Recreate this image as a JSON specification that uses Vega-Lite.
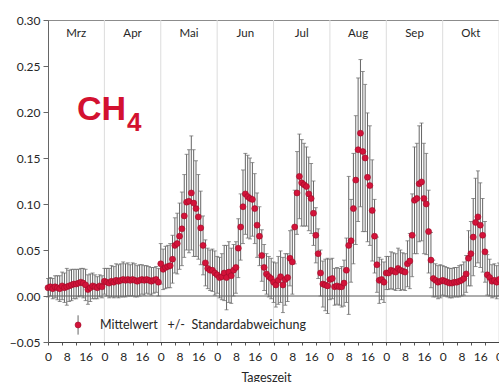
{
  "$schema": "https://vega.github.io/schema/vega-lite/v6.json",
  "width": 460,
  "height": 322,
  "autosize": {"type": "none"},
  "padding": {"left": 48, "top": 20, "right": 0, "bottom": 40},
  "background": "white",
  "config": {"view": {"stroke": "#8c8c8c"}, "font": "Lato", "axis": {"grid": false}},
  "datasets": {
    "ch4": [
      {"t":0,"mean":0.009,"sd":0.010},{"t":1,"mean":0.010,"sd":0.010},{"t":2,"mean":0.008,"sd":0.011},{"t":3,"mean":0.010,"sd":0.012},{"t":4,"mean":0.009,"sd":0.013},{"t":5,"mean":0.008,"sd":0.014},{"t":6,"mean":0.011,"sd":0.015},{"t":7,"mean":0.009,"sd":0.016},{"t":8,"mean":0.010,"sd":0.020},{"t":9,"mean":0.011,"sd":0.017},{"t":10,"mean":0.012,"sd":0.017},{"t":11,"mean":0.013,"sd":0.016},{"t":12,"mean":0.013,"sd":0.016},{"t":13,"mean":0.014,"sd":0.015},{"t":14,"mean":0.015,"sd":0.015},{"t":15,"mean":0.014,"sd":0.016},{"t":16,"mean":0.012,"sd":0.017},{"t":17,"mean":0.007,"sd":0.016},{"t":18,"mean":0.009,"sd":0.015},{"t":19,"mean":0.011,"sd":0.014},{"t":20,"mean":0.010,"sd":0.013},{"t":21,"mean":0.009,"sd":0.012},{"t":22,"mean":0.011,"sd":0.012},{"t":23,"mean":0.010,"sd":0.012},
      {"t":24,"mean":0.016,"sd":0.014},{"t":25,"mean":0.015,"sd":0.015},{"t":26,"mean":0.014,"sd":0.016},{"t":27,"mean":0.016,"sd":0.017},{"t":28,"mean":0.015,"sd":0.017},{"t":29,"mean":0.017,"sd":0.018},{"t":30,"mean":0.016,"sd":0.018},{"t":31,"mean":0.017,"sd":0.018},{"t":32,"mean":0.018,"sd":0.019},{"t":33,"mean":0.017,"sd":0.018},{"t":34,"mean":0.018,"sd":0.018},{"t":35,"mean":0.017,"sd":0.017},{"t":36,"mean":0.018,"sd":0.018},{"t":37,"mean":0.017,"sd":0.018},{"t":38,"mean":0.016,"sd":0.017},{"t":39,"mean":0.017,"sd":0.017},{"t":40,"mean":0.018,"sd":0.016},{"t":41,"mean":0.017,"sd":0.016},{"t":42,"mean":0.018,"sd":0.015},{"t":43,"mean":0.017,"sd":0.015},{"t":44,"mean":0.016,"sd":0.015},{"t":45,"mean":0.017,"sd":0.014},{"t":46,"mean":0.018,"sd":0.014},{"t":47,"mean":0.015,"sd":0.015},
      {"t":48,"mean":0.035,"sd":0.022},{"t":49,"mean":0.029,"sd":0.022},{"t":50,"mean":0.031,"sd":0.023},{"t":51,"mean":0.032,"sd":0.023},{"t":52,"mean":0.033,"sd":0.024},{"t":53,"mean":0.040,"sd":0.026},{"t":54,"mean":0.055,"sd":0.030},{"t":55,"mean":0.057,"sd":0.033},{"t":56,"mean":0.065,"sd":0.036},{"t":57,"mean":0.073,"sd":0.040},{"t":58,"mean":0.087,"sd":0.045},{"t":59,"mean":0.102,"sd":0.052},{"t":60,"mean":0.103,"sd":0.056},{"t":61,"mean":0.112,"sd":0.062},{"t":62,"mean":0.101,"sd":0.058},{"t":63,"mean":0.095,"sd":0.052},{"t":64,"mean":0.086,"sd":0.046},{"t":65,"mean":0.074,"sd":0.040},{"t":66,"mean":0.055,"sd":0.032},{"t":67,"mean":0.036,"sd":0.025},{"t":68,"mean":0.030,"sd":0.022},{"t":69,"mean":0.028,"sd":0.022},{"t":70,"mean":0.028,"sd":0.023},{"t":71,"mean":0.025,"sd":0.024},
      {"t":72,"mean":0.023,"sd":0.020},{"t":73,"mean":0.020,"sd":0.022},{"t":74,"mean":0.021,"sd":0.025},{"t":75,"mean":0.025,"sd":0.030},{"t":76,"mean":0.020,"sd":0.035},{"t":77,"mean":0.026,"sd":0.033},{"t":78,"mean":0.022,"sd":0.030},{"t":79,"mean":0.028,"sd":0.028},{"t":80,"mean":0.031,"sd":0.028},{"t":81,"mean":0.052,"sd":0.032},{"t":82,"mean":0.075,"sd":0.036},{"t":83,"mean":0.097,"sd":0.040},{"t":84,"mean":0.111,"sd":0.044},{"t":85,"mean":0.108,"sd":0.045},{"t":86,"mean":0.106,"sd":0.044},{"t":87,"mean":0.105,"sd":0.040},{"t":88,"mean":0.095,"sd":0.038},{"t":89,"mean":0.077,"sd":0.035},{"t":90,"mean":0.065,"sd":0.032},{"t":91,"mean":0.044,"sd":0.028},{"t":92,"mean":0.031,"sd":0.025},{"t":93,"mean":0.024,"sd":0.022},{"t":94,"mean":0.021,"sd":0.022},{"t":95,"mean":0.019,"sd":0.022},
      {"t":96,"mean":0.015,"sd":0.022},{"t":97,"mean":0.012,"sd":0.024},{"t":98,"mean":0.017,"sd":0.026},{"t":99,"mean":0.021,"sd":0.028},{"t":100,"mean":0.012,"sd":0.030},{"t":101,"mean":0.018,"sd":0.028},{"t":102,"mean":0.020,"sd":0.026},{"t":103,"mean":0.041,"sd":0.030},{"t":104,"mean":0.037,"sd":0.035},{"t":105,"mean":0.075,"sd":0.040},{"t":106,"mean":0.112,"sd":0.045},{"t":107,"mean":0.130,"sd":0.046},{"t":108,"mean":0.123,"sd":0.047},{"t":109,"mean":0.121,"sd":0.045},{"t":110,"mean":0.119,"sd":0.043},{"t":111,"mean":0.111,"sd":0.040},{"t":112,"mean":0.106,"sd":0.038},{"t":113,"mean":0.090,"sd":0.035},{"t":114,"mean":0.066,"sd":0.030},{"t":115,"mean":0.046,"sd":0.027},{"t":116,"mean":0.025,"sd":0.025},{"t":117,"mean":0.013,"sd":0.025},{"t":118,"mean":0.012,"sd":0.028},{"t":119,"mean":0.011,"sd":0.030},
      {"t":120,"mean":0.018,"sd":0.022},{"t":121,"mean":0.019,"sd":0.022},{"t":122,"mean":0.010,"sd":0.020},{"t":123,"mean":0.011,"sd":0.020},{"t":124,"mean":0.010,"sd":0.020},{"t":125,"mean":0.010,"sd":0.022},{"t":126,"mean":0.014,"sd":0.025},{"t":127,"mean":0.028,"sd":0.035},{"t":128,"mean":0.055,"sd":0.075},{"t":129,"mean":0.060,"sd":0.045},{"t":130,"mean":0.095,"sd":0.060},{"t":131,"mean":0.126,"sd":0.070},{"t":132,"mean":0.159,"sd":0.078},{"t":133,"mean":0.177,"sd":0.080},{"t":134,"mean":0.157,"sd":0.087},{"t":135,"mean":0.150,"sd":0.080},{"t":136,"mean":0.129,"sd":0.070},{"t":137,"mean":0.120,"sd":0.065},{"t":138,"mean":0.093,"sd":0.055},{"t":139,"mean":0.065,"sd":0.040},{"t":140,"mean":0.034,"sd":0.030},{"t":141,"mean":0.017,"sd":0.025},{"t":142,"mean":0.018,"sd":0.022},{"t":143,"mean":0.015,"sd":0.022},
      {"t":144,"mean":0.025,"sd":0.018},{"t":145,"mean":0.025,"sd":0.018},{"t":146,"mean":0.028,"sd":0.020},{"t":147,"mean":0.027,"sd":0.020},{"t":148,"mean":0.026,"sd":0.020},{"t":149,"mean":0.030,"sd":0.022},{"t":150,"mean":0.028,"sd":0.022},{"t":151,"mean":0.027,"sd":0.020},{"t":152,"mean":0.026,"sd":0.020},{"t":153,"mean":0.035,"sd":0.025},{"t":154,"mean":0.038,"sd":0.030},{"t":155,"mean":0.066,"sd":0.045},{"t":156,"mean":0.104,"sd":0.058},{"t":157,"mean":0.106,"sd":0.060},{"t":158,"mean":0.122,"sd":0.063},{"t":159,"mean":0.124,"sd":0.064},{"t":160,"mean":0.106,"sd":0.060},{"t":161,"mean":0.100,"sd":0.055},{"t":162,"mean":0.070,"sd":0.045},{"t":163,"mean":0.039,"sd":0.030},{"t":164,"mean":0.019,"sd":0.020},{"t":165,"mean":0.017,"sd":0.018},{"t":166,"mean":0.015,"sd":0.018},{"t":167,"mean":0.016,"sd":0.018},
      {"t":168,"mean":0.017,"sd":0.016},{"t":169,"mean":0.016,"sd":0.016},{"t":170,"mean":0.015,"sd":0.016},{"t":171,"mean":0.014,"sd":0.016},{"t":172,"mean":0.014,"sd":0.016},{"t":173,"mean":0.015,"sd":0.016},{"t":174,"mean":0.015,"sd":0.016},{"t":175,"mean":0.016,"sd":0.017},{"t":176,"mean":0.017,"sd":0.017},{"t":177,"mean":0.019,"sd":0.018},{"t":178,"mean":0.024,"sd":0.020},{"t":179,"mean":0.041,"sd":0.030},{"t":180,"mean":0.046,"sd":0.035},{"t":181,"mean":0.064,"sd":0.042},{"t":182,"mean":0.080,"sd":0.048},{"t":183,"mean":0.086,"sd":0.050},{"t":184,"mean":0.077,"sd":0.046},{"t":185,"mean":0.066,"sd":0.040},{"t":186,"mean":0.048,"sd":0.033},{"t":187,"mean":0.023,"sd":0.022},{"t":188,"mean":0.020,"sd":0.020},{"t":189,"mean":0.016,"sd":0.018},{"t":190,"mean":0.017,"sd":0.018},{"t":191,"mean":0.015,"sd":0.018},
      {"t":192,"mean":0.018,"sd":0.018}
    ],
    "months": [
      {"month":"Mrz","mid":12},{"month":"Apr","mid":36},{"month":"Mai","mid":60},{"month":"Jun","mid":84},
      {"month":"Jul","mid":108},{"month":"Aug","mid":132},{"month":"Sep","mid":156},{"month":"Okt","mid":180}
    ],
    "seps": [{"t":24},{"t":48},{"t":72},{"t":96},{"t":120},{"t":144},{"t":168},{"t":192}]
  },
  "resolve": {"axis": {"x": "independent", "y": "independent"}},
  "layer": [
    {
      "data": {"name": "seps"},
      "mark": {"type": "rule", "color": "#dcdcdc", "strokeWidth": 1},
      "encoding": {
        "x": {"field": "t", "type": "quantitative", "scale": {"domain": [0, 195.8], "nice": false, "zero": false},
          "axis": {"orient": "bottom", "values": [0,6,12,18,24,30,36,42,48,54,60,66,72,78,84,90,96,102,108,114,120,126,132,138,144,150,156,162,168,174,180,186,192],
            "labels": false, "ticks": true, "tickSize": 3, "tickColor": "#555", "domain": false, "title": null, "grid": false}}
      }
    },
    {
      "data": {"values": [{}]},
      "mark": {"type": "rule", "color": "#5a5a5a", "strokeWidth": 1},
      "encoding": {
        "x": {"datum": 0, "type": "quantitative", "scale": {"domain": [0, 195.8], "nice": false, "zero": false}, "axis": null},
        "x2": {"datum": 195.8},
        "y": {"datum": 0, "type": "quantitative", "scale": {"domain": [-0.05, 0.3], "nice": false, "zero": false}, "axis": null}
      }
    },
    {
      "data": {"name": "ch4"},
      "mark": {"type": "errorbar", "color": "#666666", "ticks": {"size": 4, "color": "#666666"}, "rule": {"strokeWidth": 1}},
      "encoding": {
        "x": {"field": "t", "type": "quantitative", "scale": {"domain": [0, 195.8], "nice": false, "zero": false}, "axis": null},
        "y": {"field": "mean", "type": "quantitative", "scale": {"domain": [-0.05, 0.3], "nice": false, "zero": false}, "axis": null},
        "yError": {"field": "sd"}
      }
    },
    {
      "data": {"name": "ch4"},
      "mark": {"type": "point", "shape": "circle", "filled": true, "size": 36, "color": "#d3133a", "stroke": "#9e0b26", "strokeWidth": 0.6, "opacity": 1},
      "encoding": {
        "x": {"field": "t", "type": "quantitative", "scale": {"domain": [0, 195.8], "nice": false, "zero": false},
          "axis": {"orient": "bottom", "values": [0,8,16,24,32,40,48,56,64,72,80,88,96,104,112,120,128,136,144,152,160,168,176,184,192],
            "labelExpr": "datum.value % 24", "ticks": false, "domain": true, "domainColor": "#444", "labelFontSize": 12,
            "labelColor": "#262626", "labelPadding": 9, "labelFlush": false, "labelOverlap": false,
            "title": "Tageszeit", "titleFontSize": 12.5, "titleFontWeight": "normal", "titleColor": "#262626",
            "titleX": 218, "titleY": 29, "titleBaseline": "top", "grid": false}},
        "y": {"field": "mean", "type": "quantitative", "scale": {"domain": [-0.05, 0.3], "nice": false, "zero": false},
          "axis": {"orient": "left", "values": [-0.05, 0, 0.05, 0.1, 0.15, 0.2, 0.25, 0.3], "format": ".2f", "tickSize": 5, "tickColor": "#666",
            "domainColor": "#666", "labelFontSize": 12, "labelColor": "#262626", "labelPadding": 3, "title": null, "grid": false}}
      }
    },
    {
      "data": {"name": "months"},
      "mark": {"type": "text", "fontSize": 11.5, "color": "#262626", "align": "center", "baseline": "middle"},
      "encoding": {
        "x": {"field": "mid", "type": "quantitative", "scale": {"domain": [0, 195.8], "nice": false, "zero": false}, "axis": null},
        "y": {"datum": 0.285, "type": "quantitative", "scale": {"domain": [-0.05, 0.3], "nice": false, "zero": false}, "axis": null},
        "text": {"field": "month"}
      }
    },
    {
      "data": {"values": [{}]},
      "mark": {"type": "text", "text": "CH", "font": "Liberation Sans", "fontSize": 34, "fontWeight": "bold", "color": "#d31130", "align": "left", "baseline": "alphabetic"},
      "encoding": {
        "x": {"datum": 12.3, "type": "quantitative", "scale": {"domain": [0, 195.8], "nice": false, "zero": false}, "axis": null},
        "y": {"datum": 0.191, "type": "quantitative", "scale": {"domain": [-0.05, 0.3], "nice": false, "zero": false}, "axis": null}
      }
    },
    {
      "data": {"values": [{}]},
      "mark": {"type": "text", "text": "4", "font": "Liberation Sans", "fontSize": 26, "fontWeight": "bold", "color": "#d31130", "align": "left", "baseline": "alphabetic"},
      "encoding": {
        "x": {"datum": 33.6, "type": "quantitative", "scale": {"domain": [0, 195.8], "nice": false, "zero": false}, "axis": null},
        "y": {"datum": 0.1793, "type": "quantitative", "scale": {"domain": [-0.05, 0.3], "nice": false, "zero": false}, "axis": null}
      }
    },
    {
      "data": {"values": [{}]},
      "mark": {"type": "rule", "color": "#666666", "strokeWidth": 1},
      "encoding": {
        "x": {"datum": 12.8, "type": "quantitative", "scale": {"domain": [0, 195.8], "nice": false, "zero": false}, "axis": null},
        "y": {"datum": -0.042, "type": "quantitative", "scale": {"domain": [-0.05, 0.3], "nice": false, "zero": false}, "axis": null},
        "y2": {"datum": -0.021}
      }
    },
    {
      "data": {"values": [{}]},
      "mark": {"type": "point", "shape": "circle", "filled": true, "size": 36, "color": "#d3133a", "stroke": "#9e0b26", "strokeWidth": 0.6, "opacity": 1},
      "encoding": {
        "x": {"datum": 12.8, "type": "quantitative", "scale": {"domain": [0, 195.8], "nice": false, "zero": false}, "axis": null},
        "y": {"datum": -0.0315, "type": "quantitative", "scale": {"domain": [-0.05, 0.3], "nice": false, "zero": false}, "axis": null}
      }
    },
    {
      "data": {"values": [{}]},
      "mark": {"type": "text", "text": "Mittelwert\u00a0\u00a0\u00a0+/-\u00a0\u00a0Standardabweichung", "fontSize": 12.5, "color": "#262626", "align": "left", "baseline": "middle"},
      "encoding": {
        "x": {"datum": 22.1, "type": "quantitative", "scale": {"domain": [0, 195.8], "nice": false, "zero": false}, "axis": null},
        "y": {"datum": -0.0315, "type": "quantitative", "scale": {"domain": [-0.05, 0.3], "nice": false, "zero": false}, "axis": null}
      }
    }
  ]
}
